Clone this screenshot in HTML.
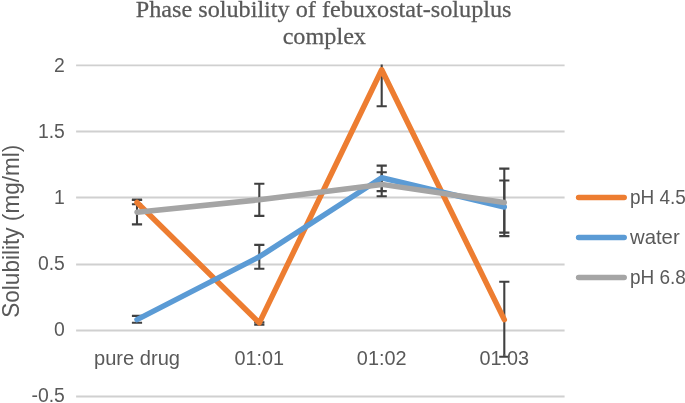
<!DOCTYPE html>
<html lang="en"><head><meta charset="utf-8"><title>Phase solubility of febuxostat-soluplus complex</title>
<style>html,body{margin:0;padding:0;background:#fff;}body{width:685px;height:403px;overflow:hidden;}svg{display:block;}.t{font-family:"Liberation Serif",serif;fill:#595959;stroke:#595959;stroke-width:0.25px;}.s{font-family:"Liberation Sans",sans-serif;fill:#595959;}</style></head><body>
<svg width="685" height="403" viewBox="0 0 685 403">
<rect width="685" height="403" fill="#fff"/>
<defs><clipPath id="plot"><rect x="66.1" y="64.5" width="508.5" height="403"/></clipPath></defs>
<g stroke="#D0D0D0" stroke-width="1.8" fill="none">
<line x1="76.1" y1="65.4" x2="564.6" y2="65.4"/>
<line x1="76.1" y1="131.5" x2="564.6" y2="131.5"/>
<line x1="76.1" y1="197.5" x2="564.6" y2="197.5"/>
<line x1="76.1" y1="264.5" x2="564.6" y2="264.5"/>
<line x1="76.1" y1="330.5" x2="564.6" y2="330.5"/>
<line x1="76.1" y1="396.5" x2="564.6" y2="396.5"/>
</g>
<g stroke="#404040" stroke-width="2.1" fill="none" clip-path="url(#plot)"><path d="M137.0 199.9 V204.2 M131.9 199.9 H142.1 M131.9 204.2 H142.1"/><path d="M259.3 322.2 V324.6 M254.2 322.2 H264.4 M254.2 324.6 H264.4"/><path d="M381.7 33.0 V106.25 M376.6 33.0 H386.8 M376.6 106.25 H386.8"/><path d="M504.3 281.8 V356.8 M499.2 281.8 H509.4 M499.2 356.8 H509.4"/></g>
<g stroke="#404040" stroke-width="2.1" fill="none" clip-path="url(#plot)"><path d="M137.0 315.9 V322.8 M131.9 315.9 H142.1 M131.9 322.8 H142.1"/><path d="M259.3 244.9 V268.7 M254.2 244.9 H264.4 M254.2 268.7 H264.4"/><path d="M381.7 165.6 V191.1 M376.6 165.6 H386.8 M376.6 191.1 H386.8"/><path d="M504.3 180.5 V232.6 M499.2 180.5 H509.4 M499.2 232.6 H509.4"/></g>
<g stroke="#404040" stroke-width="2.1" fill="none" clip-path="url(#plot)"><path d="M137.0 199.9 V224.4 M131.9 199.9 H142.1 M131.9 224.4 H142.1"/><path d="M259.3 183.8 V215.9 M254.2 183.8 H264.4 M254.2 215.9 H264.4"/><path d="M381.7 172.2 V196.2 M376.6 172.2 H386.8 M376.6 196.2 H386.8"/><path d="M504.3 168.6 V236.1 M499.2 168.6 H509.4 M499.2 236.1 H509.4"/></g>
<polyline points="137.0,202.5 259.3,322.9 381.7,69.8 504.3,319.6" fill="none" stroke="#ED7D31" stroke-width="5.5" stroke-linecap="round" stroke-linejoin="round"/>
<polyline points="137.0,319.6 259.3,256.8 381.7,177.8 504.3,207.0" fill="none" stroke="#5B9BD5" stroke-width="5.5" stroke-linecap="round" stroke-linejoin="round"/>
<polyline points="137.0,212.2 259.3,199.8 381.7,184.4 504.3,202.5" fill="none" stroke="#A5A5A5" stroke-width="5.5" stroke-linecap="round" stroke-linejoin="round"/>
<text class="t" font-size="23.5" text-anchor="middle" transform="translate(323.6 16.6) scale(1.031 1.02)">Phase solubility of febuxostat-soluplus</text>
<text class="t" font-size="23.5" text-anchor="middle" transform="translate(324.3 43.8) scale(1.031 1.02)">complex</text>
<text class="s" font-size="19" text-anchor="end" transform="translate(64.9 72.45) scale(1.02 1.07)">2</text>
<text class="s" font-size="19" text-anchor="end" transform="translate(64.9 138.45) scale(1.02 1.07)">1.5</text>
<text class="s" font-size="19" text-anchor="end" transform="translate(64.9 204.45) scale(1.02 1.07)">1</text>
<text class="s" font-size="19" text-anchor="end" transform="translate(64.9 270.45) scale(1.02 1.07)">0.5</text>
<text class="s" font-size="19" text-anchor="end" transform="translate(64.9 336.45) scale(1.02 1.07)">0</text>
<text class="s" font-size="19" text-anchor="end" transform="translate(64.9 402.45) scale(1.02 1.07)">-0.5</text>
<text class="s" font-size="19" text-anchor="middle" transform="translate(137.0 364.9) scale(1.058 1.07)">pure drug</text>
<text class="s" font-size="19" text-anchor="middle" transform="translate(259.3 364.9) scale(1.045 1.07)">01:01</text>
<text class="s" font-size="19" text-anchor="middle" transform="translate(381.7 364.9) scale(1.045 1.07)">01:02</text>
<text class="s" font-size="19" text-anchor="middle" transform="translate(504.3 364.9) scale(1.045 1.07)">01:03</text>
<text class="s" font-size="22.2" text-anchor="middle" transform="translate(18.7 231.2) rotate(-90) scale(1.018 1.04)">Solubility (mg/ml)</text>
<line x1="578.6" y1="197.6" x2="624.2" y2="197.6" stroke="#ED7D31" stroke-width="5.5" stroke-linecap="round"/>
<text class="s" font-size="19" text-anchor="start" transform="translate(630.0 204.1) scale(1.0 1.03)">pH 4.5</text>
<line x1="578.6" y1="237.6" x2="624.2" y2="237.6" stroke="#5B9BD5" stroke-width="5.5" stroke-linecap="round"/>
<text class="s" font-size="19" text-anchor="start" transform="translate(630.0 243.8) scale(1.07 1.03)">water</text>
<line x1="578.6" y1="277.5" x2="624.2" y2="277.5" stroke="#A5A5A5" stroke-width="5.5" stroke-linecap="round"/>
<text class="s" font-size="19" text-anchor="start" transform="translate(630.0 283.6) scale(1.0 1.03)">pH 6.8</text>
</svg></body></html>
